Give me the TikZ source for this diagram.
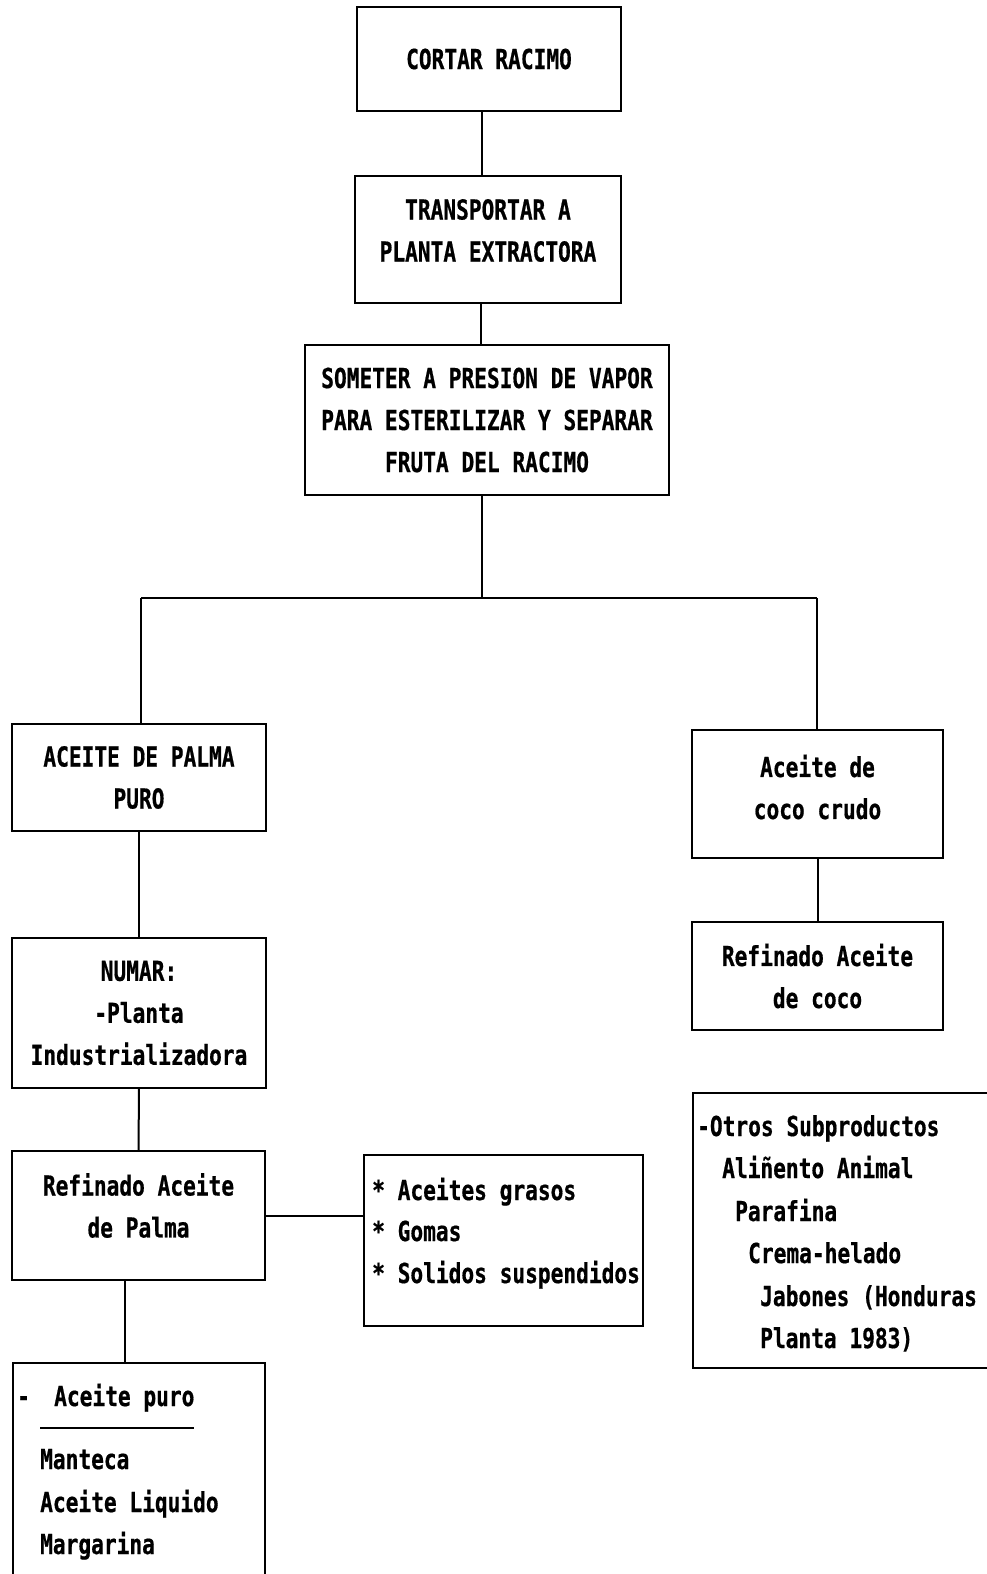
\documentclass[tikz,border=0pt]{standalone}
\usepackage{fontspec}
\newfontfamily\dm[FakeStretch=0.77,FakeBold=0.6]{DejaVu Sans Mono}
\begin{document}
\begin{tikzpicture}[x=1pt,y=-1pt,
  dmfont/.style={font=\dm\bfseries\fontsize{27.5pt}{42pt}\selectfont},
  box/.style={draw, line width=2pt, inner sep=0pt, align=center, dmfont},
  ctxt/.style={inner sep=0pt, align=center, dmfont},
  txt/.style={inner sep=0pt, anchor=base west, dmfont},
  conn/.style={line width=2pt}]
\clip (0,0) rectangle (987,1574);
\fill[white] (0,0) rectangle (987,1574);
% boxes
\node[box, minimum width=264, minimum height=104] (cortar) at (489,59) {CORTAR RACIMO};
\node[box, minimum width=266, minimum height=127] (transp) at (488,239.5) {};
\node[ctxt] (transpT) at ([yshift=9pt]transp.center) {TRANSPORTAR A\\PLANTA EXTRACTORA};
\node[box, minimum width=364, minimum height=150] (someter) at (487,420) {SOMETER A PRESION DE VAPOR\\PARA ESTERILIZAR Y SEPARAR\\FRUTA DEL RACIMO};
\node[box, minimum width=254, minimum height=107] (palma) at (139,777.5) {ACEITE DE PALMA\\PURO};
\node[box, minimum width=251, minimum height=128] (coco) at (817.5,794) {};
\node[ctxt] (cocoT) at ([yshift=7pt]coco.center) {Aceite de\\coco crudo};
\node[box, minimum width=251, minimum height=108] (refcoco) at (817.5,976) {Refinado Aceite\\de coco};
\node[box, minimum width=254, minimum height=150] (numar) at (139,1013) {NUMAR:\\-Planta\\Industrializadora};
\node[box, minimum width=253, minimum height=129] (refpalma) at (138.5,1215.5) {};
\node[ctxt] (refpalmaT) at ([yshift=10pt]refpalma.center) {Refinado Aceite\\de Palma};
\node[box, minimum width=279, minimum height=171] (residuos) at (503.5,1240.5) {};
\node[box, minimum width=320, minimum height=275, anchor=north west] (otros) at (692,1092) {};
\node[box, minimum width=252, minimum height=240, anchor=north west] (productos) at (12,1362) {};
% list texts
\node[txt] (r1) at (372,1200) {* Aceites grasos};
\node[txt] (r2) at (372,1241) {* Gomas};
\node[txt] (r3) at (372,1283) {* Solidos suspendidos};
\node[txt] (o1) at (697,1136) {-Otros Subproductos};
\node[txt] (o2) at (722,1178) {Aliñento Animal};
\node[txt] (o3) at (735,1221) {Parafina};
\node[txt] (o4) at (748,1263) {Crema-helado};
\node[txt] (o5) at (760,1306) {Jabones (Honduras};
\node[txt] (o6) at (760,1348) {Planta 1983)};
\node[txt] (p0) at (17,1406) {-};
\node[txt] (p1) at (54,1406) {Aceite puro};
\coordinate (ul1) at (40,1428);
\coordinate (ul2) at (194,1428);
\draw[conn] (ul1) -- (ul2);
\node[txt] (p2) at (40,1469) {Manteca};
\node[txt] (p3) at (40,1512) {Aceite Liquido};
\node[txt] (p4) at (40,1554) {Margarina};
% connectors
\draw[conn] ([xshift=-7]cortar.south) -- ([xshift=-7]cortar.south |- transp.north);
\draw[conn] ([xshift=-7]transp.south) -- ([xshift=-7]transp.south |- someter.north);
\coordinate (split) at (482,598);
\coordinate (jl) at (141,598);
\coordinate (jr) at (817,598);
\draw[conn] (someter.south -| split) -- (split);
\draw[conn] (jl) -- (jr);
\draw[conn] (jl) -- (jl |- palma.north);
\draw[conn] (jr) -- (jr |- coco.north);
\draw[conn] (palma.south) -- (numar.north);
\draw[conn] (numar.south) -- (refpalma.north);
\draw[conn] (coco.south) -- (refcoco.north);
\draw[conn] (refpalma.east) -- (residuos.west |- refpalma.east);
\draw[conn] ([xshift=-13.5]refpalma.south) -- ([xshift=-13.5]refpalma.south |- productos.north);
\end{tikzpicture}
\end{document}
